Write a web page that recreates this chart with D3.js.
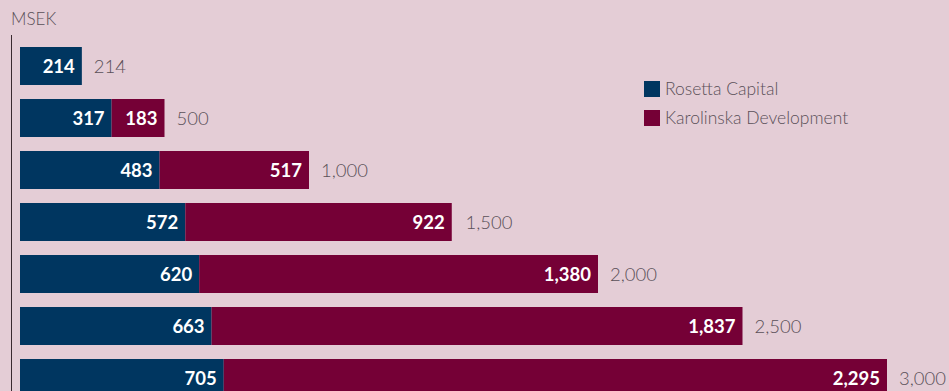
<!DOCTYPE html>
<html>
<head>
<meta charset="utf-8">
<script src="https://cdn.jsdelivr.net/npm/d3@7"></script>
<style>
  body { margin: 0; background: #e4cdd6; }
  svg { display: block; font-family: Lato, "Open Sans", sans-serif; }
</style>
</head>
<body>
<svg></svg>
<script>
const totals = [214, 500, 1000, 1500, 2000, 2500, 3000];
const rosetta = [214, 317, 483, 572, 620, 663, 705];
const karolinska = [0, 183, 517, 922, 1380, 1837, 2295];
const seriesNames = ["Rosetta Capital", "Karolinska Development"];
const colors = ["#003660", "#750036"];

const width = 949;
const height = 391;

const svg = d3.select('svg')
              .attr('width', width)
              .attr('height', height);

svg.append('rect')
   .attr('width', width)
   .attr('height', height)
   .attr('fill', '#e4cdd6');

const x = d3.scaleLinear()
            .domain([0, 3000])
            .range([20, 887]);

const y = d3.scaleBand()
            .domain(d3.range(totals.length))
            .range([47, 397])
            .paddingInner(14 / 52)
            .paddingOuter(0);

// axis line + unit label
svg.append('line')
   .attr('x1', 11.5).attr('x2', 11.5)
   .attr('y1', 35).attr('y2', height)
   .attr('stroke', '#3a2a30')
   .attr('stroke-width', 1);

svg.append('text')
   .attr('x', 11)
   .attr('y', 25)
   .attr('font-size', 17)
   .attr('font-weight', 300)
   .attr('fill', '#5a5058')
   .text('MSEK');

const rows = totals.map((t, i) => ({ i, t, r: rosetta[i], k: karolinska[i] }));

const g = svg.selectAll('g.row')
             .data(rows)
             .join('g')
             .attr('class', 'row');

g.append('rect')
 .attr('x', x(0))
 .attr('y', d => y(d.i))
 .attr('width', d => x(d.r) - x(0))
 .attr('height', y.bandwidth())
 .attr('fill', colors[0]);

g.filter(d => d.k > 0)
 .append('rect')
 .attr('x', d => x(d.r))
 .attr('y', d => y(d.i))
 .attr('width', d => x(d.r + d.k) - x(d.r))
 .attr('height', y.bandwidth())
 .attr('fill', colors[1]);

const fmt = d3.format(',');

g.append('text')
 .attr('x', d => x(d.r) - 7)
 .attr('y', d => y(d.i) + y.bandwidth() / 2)
 .attr('dy', '0.36em')
 .attr('text-anchor', 'end')
 .attr('font-size', 18.5)
 .attr('font-weight', 'bold')
 .attr('fill', 'white')
 .text(d => fmt(d.r));

g.filter(d => d.k > 0)
 .append('text')
 .attr('x', d => x(d.r + d.k) - 7)
 .attr('y', d => y(d.i) + y.bandwidth() / 2)
 .attr('dy', '0.36em')
 .attr('text-anchor', 'end')
 .attr('font-size', 18.5)
 .attr('font-weight', 'bold')
 .attr('fill', 'white')
 .text(d => fmt(d.k));

g.append('text')
 .attr('x', d => x(d.t) + 12)
 .attr('y', d => y(d.i) + y.bandwidth() / 2)
 .attr('dy', '0.36em')
 .attr('font-size', 18.5)
 .attr('font-weight', 300)
 .attr('fill', '#5a5058')
 .text(d => fmt(d.t));

// legend
const legend = svg.selectAll('g.legend')
                  .data(seriesNames)
                  .join('g')
                  .attr('class', 'legend')
                  .attr('transform', (d, i) => `translate(644,${81 + i * 29})`);

legend.append('rect')
      .attr('width', 16)
      .attr('height', 16)
      .attr('fill', (d, i) => colors[i]);

legend.append('text')
      .attr('x', 21)
      .attr('y', 8)
      .attr('dy', '0.36em')
      .attr('font-size', 17.5)
      .attr('font-weight', 300)
      .attr('fill', '#5a5058')
      .text(d => d);
</script>
</body>
</html>
